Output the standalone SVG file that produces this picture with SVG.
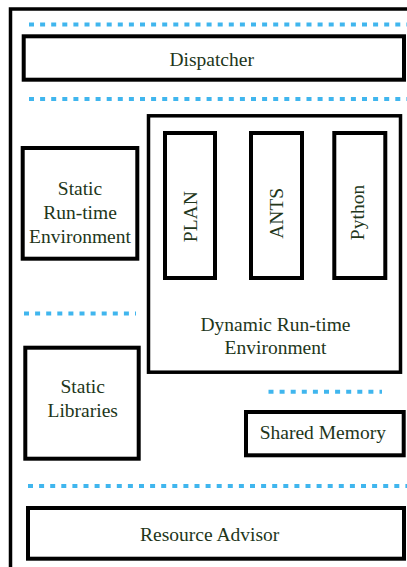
<svg xmlns="http://www.w3.org/2000/svg" width="407" height="567" viewBox="0 0 407 567">
  <style>
    .box { fill: #ffffff; stroke: #000000; stroke-width: 4; }
    .thin { stroke-width: 3.5; }
    .sep { fill: none; stroke: #40b6ee; stroke-width: 4; stroke-dasharray: 5 6.1; }
    text { font-family: 'Liberation Serif', 'DejaVu Serif', serif; font-size: 19.5px; fill: #22361a; text-anchor: middle; }
  </style>
  <rect width="407" height="567" fill="#ffffff"/>

  <!-- outer frame, running past the right and bottom edges -->
  <rect id="frame" x="10.5" y="9" width="420" height="600" fill="none" stroke="#000000" stroke-width="3.5"/>

  <!-- dotted layer separators -->
  <g id="separators">
    <line class="sep" x1="29" y1="24.5" x2="407" y2="24.5"/>
    <line class="sep" x1="29" y1="99" x2="407" y2="99"/>
    <line class="sep" x1="24" y1="313.5" x2="136" y2="313.5"/>
    <line class="sep" x1="268.5" y1="391.7" x2="382" y2="391.7"/>
    <line class="sep" x1="28" y1="486" x2="407" y2="486"/>
  </g>

  <g font-family="Liberation Serif, DejaVu Serif, serif">
    <g id="dispatcher">
      <rect class="box" x="23.7" y="36.3" width="380.3" height="43.4"/>
      <text x="211.7" y="65.7">Dispatcher</text>
    </g>

    <g id="static-runtime">
      <rect class="box" x="22.7" y="148" width="114.6" height="110.7"/>
      <text x="80" y="195">Static</text>
      <text x="80" y="219.3">Run-time</text>
      <text x="80" y="242.7">Environment</text>
    </g>

    <g id="dynamic-runtime">
      <rect class="box thin" x="148.5" y="115.8" width="252" height="256.4"/>
      <text x="275.5" y="330.7">Dynamic Run-time</text>
      <text x="275.5" y="354">Environment</text>
    </g>

    <g id="plan">
      <rect class="box" x="165" y="133" width="50" height="145"/>
      <text transform="translate(196.7 216.7) rotate(-90)">PLAN</text>
    </g>

    <g id="ants">
      <rect class="box" x="251" y="133" width="51" height="145"/>
      <text transform="translate(283.3 213.3) rotate(-90)">ANTS</text>
    </g>

    <g id="python">
      <rect class="box" x="334.3" y="133" width="51" height="145"/>
      <text transform="translate(364 212.5) rotate(-90)">Python</text>
    </g>

    <g id="static-libraries">
      <rect class="box" x="25.3" y="347.7" width="113.4" height="111"/>
      <text x="82.7" y="393.3">Static</text>
      <text x="82.7" y="416.7">Libraries</text>
    </g>

    <g id="shared-memory">
      <rect class="box" x="246" y="412" width="157.7" height="43.3"/>
      <text x="322.8" y="439.3">Shared Memory</text>
    </g>

    <g id="resource-advisor">
      <rect class="box" x="28" y="508" width="376" height="50.7"/>
      <text x="209.7" y="540.7">Resource Advisor</text>
    </g>
  </g>
</svg>
